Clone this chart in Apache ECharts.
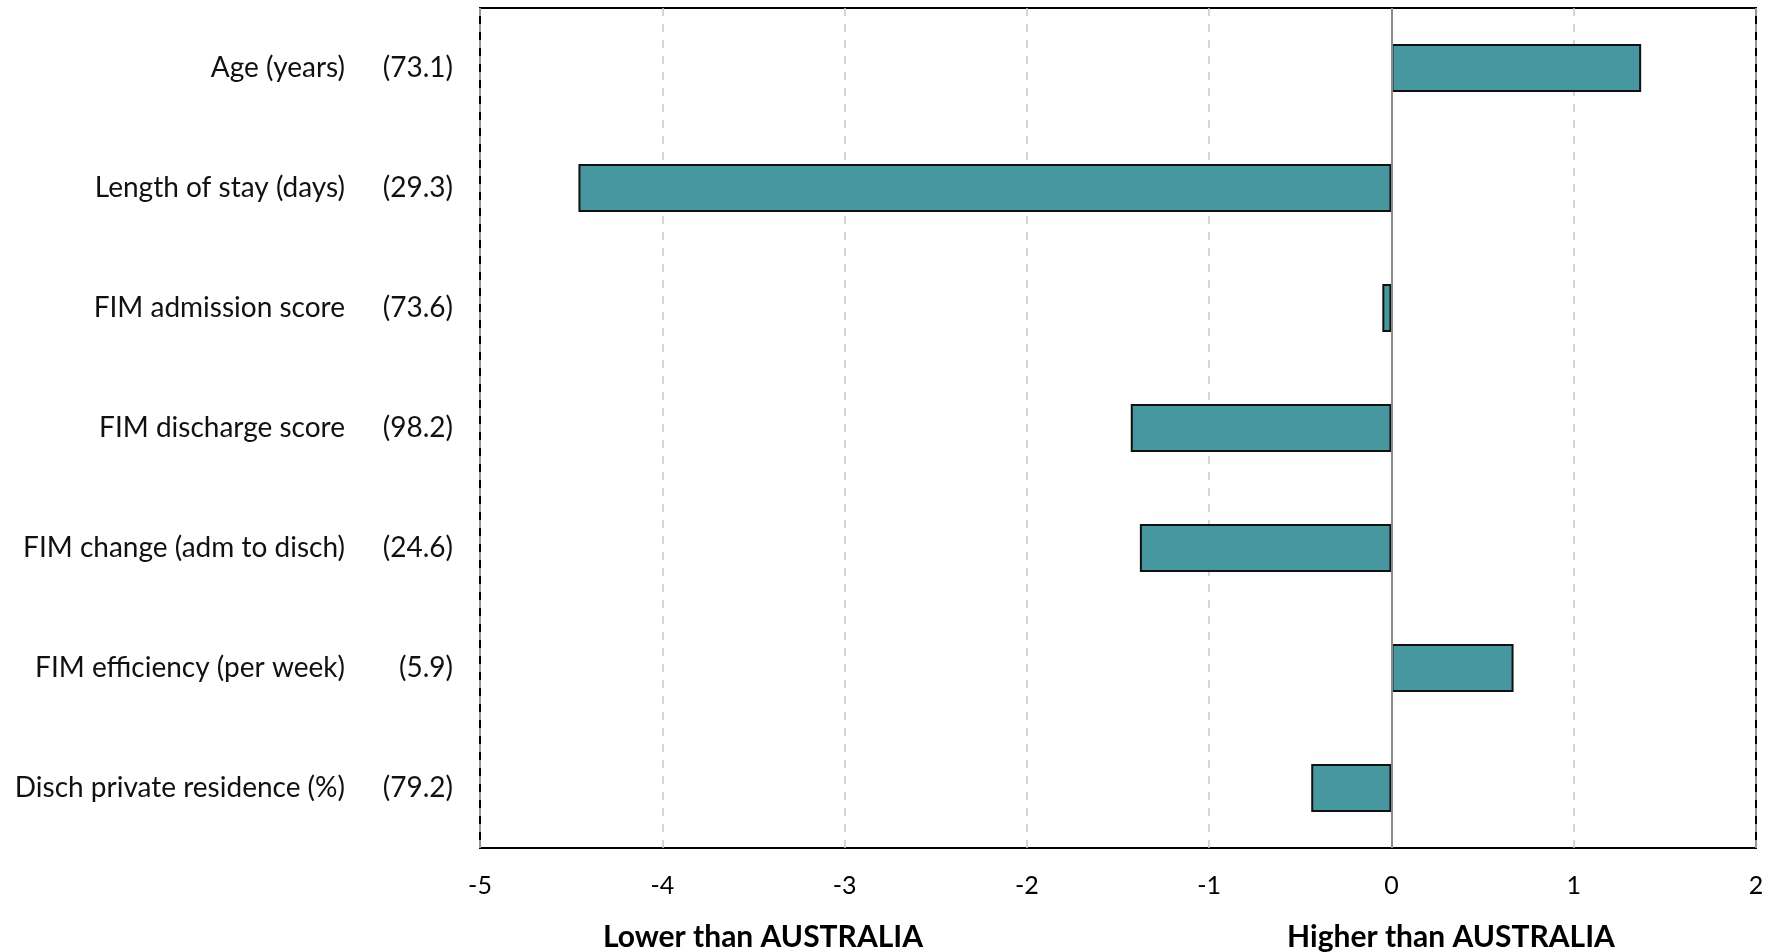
<!DOCTYPE html>
<html>
<head>
<meta charset="utf-8">
<script src="https://cdn.jsdelivr.net/npm/echarts@6/dist/echarts.min.js"></script>
<style>
html,body{margin:0;padding:0;background:#fff;}
#chart{width:1768px;height:952px;}
</style>
</head>
<body>
<div id="chart"></div>
<script>
const categories = ["Age (years)","Length of stay (days)","FIM admission score","FIM discharge score","FIM change (adm to disch)","FIM efficiency (per week)","Disch private residence (%)"];
const benchmarks = ["(73.1)","(29.3)","(73.6)","(98.2)","(24.6)","(5.9)","(79.2)"];
const values = [1.37, -4.46, -0.05, -1.43, -1.38, 0.67, -0.44];
const xTicks = {min:-5, max:2, interval:1};
const bottomLabels = ["Lower than AUSTRALIA","Higher than AUSTRALIA"];

const FONT = "Lato";
const chart = echarts.init(document.getElementById('chart'));
chart.setOption({
  animation:false,
  grid:{left:480,right:12,top:8,bottom:104,show:true,borderColor:'#000',borderWidth:2,backgroundColor:'transparent'},
  xAxis:{type:'value',min:xTicks.min,max:xTicks.max,interval:xTicks.interval,
    axisLine:{show:false},axisTick:{show:false},
    axisLabel:{color:'#000',fontSize:25,fontFamily:FONT,margin:25},
    splitLine:{show:true,lineStyle:{color:'#c8c8c8',type:[8,8],width:1.5}}},
  yAxis:[
    {type:'category',data:categories,inverse:true,position:'left',
      axisLine:{show:false},axisTick:{show:false},splitLine:{show:false},
      axisLabel:{color:'#111',fontSize:28,fontFamily:FONT,margin:135}},
    {type:'category',data:benchmarks,inverse:true,position:'left',
      axisLine:{show:false},axisTick:{show:false},splitLine:{show:false},
      axisLabel:{color:'#111',fontSize:28,fontFamily:FONT,margin:27}}
  ],
  series:[{type:'bar',data:values,yAxisIndex:0,barWidth:'40%',
    itemStyle:{color:'#46979f',borderColor:'#111',borderWidth:2},
    markLine:{silent:true,symbol:'none',label:{show:false},
      lineStyle:{color:'#8c8c8c',type:'solid',width:2},data:[{xAxis:0}]}}],
  graphic:[
    {type:'text',x:763,y:937,style:{text:bottomLabels[0],font:'bold 30px '+FONT,fill:'#000',align:'center',verticalAlign:'middle'}},
    {type:'text',x:1451,y:937,style:{text:bottomLabels[1],font:'bold 30px '+FONT,fill:'#000',align:'center',verticalAlign:'middle'}}
  ]
});
</script>
</body>
</html>
